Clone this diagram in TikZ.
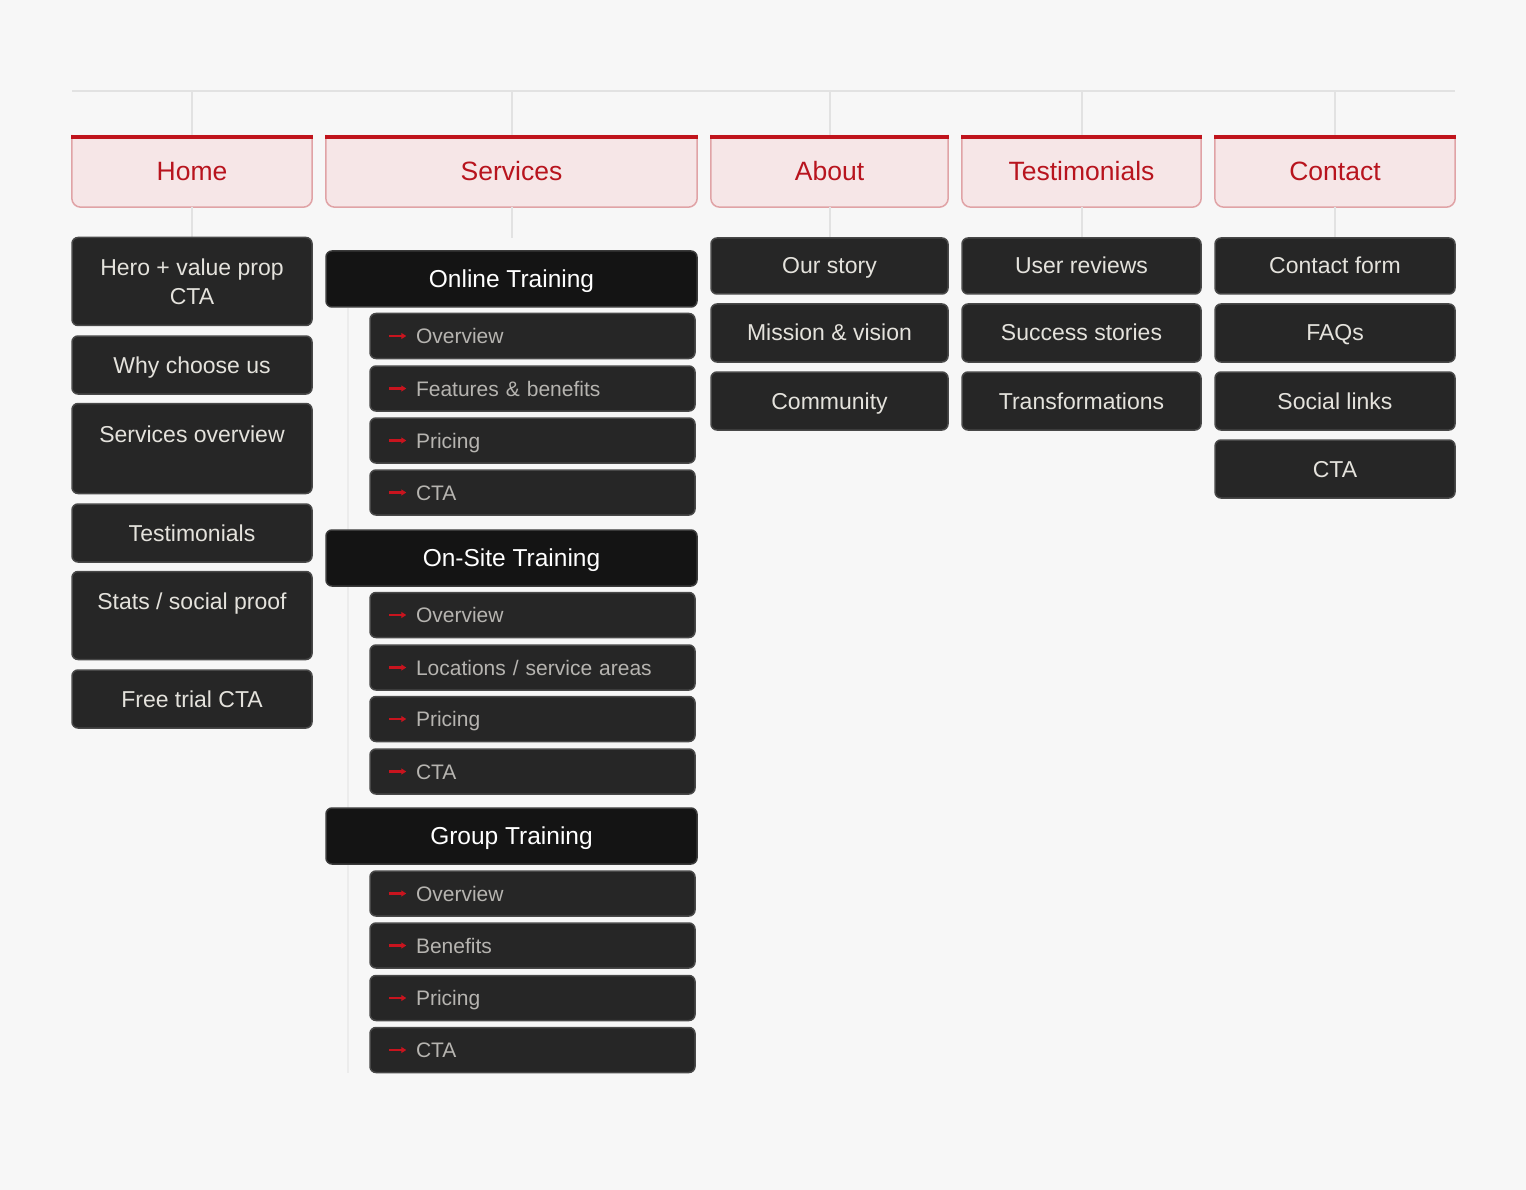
\documentclass[tikz,border=0pt]{standalone}
\usepackage{fontspec}
\setmainfont{Liberation Sans}
\usetikzlibrary{arrows.meta}
\definecolor{bgc}{HTML}{F7F7F7}
\definecolor{connc}{HTML}{E2E2E2}
\definecolor{spinec}{HTML}{ECECEC}
\definecolor{hdrfill}{HTML}{F6E6E7}
\definecolor{hdrborder}{HTML}{E0A3A6}
\definecolor{hdrred}{HTML}{C0141C}
\definecolor{hdrtext}{HTML}{B8141E}
\definecolor{itemfill}{HTML}{262626}
\definecolor{itemborder}{HTML}{484848}
\definecolor{itemtext}{HTML}{E4E2DC}
\definecolor{grpfill}{HTML}{141414}
\definecolor{grpborder}{HTML}{3A3A3A}
\definecolor{subtext}{HTML}{B6B4B0}
\definecolor{arrowred}{HTML}{C8141E}
\pgfdeclarelayer{bgzero}
\pgfdeclarelayer{bgone}
\pgfsetlayers{bgzero,bgone,main}
\newcommand\hdrdeco[1]{%
  \fill[hdrfill, rounded corners=9pt] (#1.north west) rectangle (#1.south east);
  \fill[hdrfill] (#1.north west) rectangle ([yshift=-20pt]#1.north east);
  \draw[hdrborder, line width=1.5pt, rounded corners=9pt] (#1.north west) -- (#1.south west) -- (#1.south east) -- (#1.north east);
  \fill[hdrred] ([xshift=-0.75pt]#1.north west) rectangle ([xshift=0.75pt,yshift=-4pt]#1.north east);
}
\newcommand\subtxt[1]{\hspace*{26pt}#1}
\begin{document}
\begin{tikzpicture}[x=1pt,y=-1pt,
  hdr/.style={minimum height=72pt, inner sep=0pt, text=hdrtext, font=\fontsize{26.5}{30}\selectfont,
    text height=19pt, text depth=0pt},
  item/.style={draw=itemborder, line width=1.5pt, fill=itemfill, rounded corners=6pt, text=itemtext,
    font=\fontsize{23}{29}\selectfont, align=center, inner sep=0pt},
  one/.style={text height=16pt, text depth=0pt},
  grp/.style={item, fill=grpfill, draw=grpborder, text=white, font=\fontsize{24.5}{29}\selectfont,
    minimum width=371pt, minimum height=56pt, text height=17.5pt, text depth=0pt},
  subitem/.style={item, text=subtext, font=\fontsize{21}{25}\selectfont, align=left,
    inner xsep=20pt, text width=285pt, minimum height=45pt, text height=15pt, text depth=0pt},
  subarrow/.style={draw=arrowred, line width=2.2pt, -{Triangle[length=5pt,width=6pt]}},
  conn/.style={draw=connc, line width=2pt},
  spine/.style={draw=spinec, line width=2pt}]
\begin{pgfonlayer}{bgzero}
\fill[bgc] (0,0) rectangle (1526,1190);
\end{pgfonlayer}
\useasboundingbox (0,0) rectangle (1526,1190);

% headers
\node[hdr, minimum width=240pt] (hHome) at (192,171) {Home};
\node[hdr, minimum width=371pt] (hServices) at (511.5,171) {Services};
\node[hdr, minimum width=237pt] (hAbout) at (829.5,171) {About};
\node[hdr, minimum width=239pt] (hTesti) at (1081.5,171) {Testimonials};
\node[hdr, minimum width=240pt] (hContact) at (1335,171) {Contact};
\begin{pgfonlayer}{bgone}
\hdrdeco{hHome}
\hdrdeco{hServices}
\hdrdeco{hAbout}
\hdrdeco{hTesti}
\hdrdeco{hContact}
\end{pgfonlayer}

% Home column
\begin{scope}[every node/.append style={minimum width=240pt}]
\node[item, minimum height=88pt] (home1) at (192,281.5) {Hero + value prop\\CTA};
\node[item, one, minimum height=58pt] (home2) at (192,365) {Why choose us};
\node[item, minimum height=90pt] (home3) at (192,448.5) {Services overview\\\mbox{}};
\node[item, one, minimum height=58pt] (home4) at (192,533) {Testimonials};
\node[item, minimum height=88pt] (home5) at (192,615.5) {Stats / social proof\\\mbox{}};
\node[item, one, minimum height=58pt] (home6) at (192,699) {Free trial CTA};
\end{scope}

% Services column
\node[grp] (g1) at (511.5,279) {Online Training};
\node[subitem] (s11) at (532.5,336) {\subtxt{Overview}};
\node[subitem] (s12) at (532.5,388.5) {\subtxt{Features \& benefits}};
\node[subitem] (s13) at (532.5,440.5) {\subtxt{Pricing}};
\node[subitem] (s14) at (532.5,492.5) {\subtxt{CTA}};
\node[grp] (g2) at (511.5,558) {On-Site Training};
\node[subitem] (s21) at (532.5,615) {\subtxt{Overview}};
\node[subitem] (s22) at (532.5,667.5) {\subtxt{Locations / service areas}};
\node[subitem] (s23) at (532.5,719) {\subtxt{Pricing}};
\node[subitem] (s24) at (532.5,771.5) {\subtxt{CTA}};
\node[grp] (g3) at (511.5,836) {Group Training};
\node[subitem] (s31) at (532.5,893.5) {\subtxt{Overview}};
\node[subitem] (s32) at (532.5,945.5) {\subtxt{Benefits}};
\node[subitem] (s33) at (532.5,998) {\subtxt{Pricing}};
\node[subitem] (s34) at (532.5,1050) {\subtxt{CTA}};
\foreach \s in {s11,s12,s13,s14,s21,s22,s23,s24,s31,s32,s33,s34}{
  \draw[subarrow] ([xshift=20pt]\s.west) -- ([xshift=37pt]\s.west);
}

% About column
\begin{scope}[every node/.append style={minimum width=237pt}]
\node[item, one, minimum height=56pt] (ab1) at (829.5,266) {Our story};
\node[item, one, minimum height=58pt] (ab2) at (829.5,333) {Mission \& vision};
\node[item, one, minimum height=58pt] (ab3) at (829.5,401) {Community};
\end{scope}

% Testimonials column
\begin{scope}[every node/.append style={minimum width=239pt}]
\node[item, one, minimum height=56pt] (te1) at (1081.5,266) {User reviews};
\node[item, one, minimum height=58pt] (te2) at (1081.5,333) {Success stories};
\node[item, one, minimum height=58pt] (te3) at (1081.5,401) {Transformations};
\end{scope}

% Contact column
\begin{scope}[every node/.append style={minimum width=240pt}]
\node[item, one, minimum height=56pt] (co1) at (1335,266) {Contact form};
\node[item, one, minimum height=58pt] (co2) at (1335,333) {FAQs};
\node[item, one, minimum height=58pt] (co3) at (1335,401) {Social links};
\node[item, one, minimum height=58pt] (co4) at (1335,469) {CTA};
\end{scope}

% connectors
\coordinate (tl) at (72,91);
\coordinate (tr) at (1455,91);
\coordinate (svend) at (511.5,238);
\coordinate (spbot) at (348,1073);
\begin{pgfonlayer}{bgone}
\draw[conn, line width=1.5pt] (tl) -- (tr);
\foreach \h in {hHome,hServices,hAbout,hTesti,hContact}{
  \draw[conn] (\h.north |- tl) -- (\h.north);
}
\draw[conn] (hHome.south) -- (home1.north);
\draw[conn] (hServices.south) -- (svend);
\draw[conn] (hAbout.south) -- (ab1.north);
\draw[conn] (hTesti.south) -- (te1.north);
\draw[conn] (hContact.south) -- (co1.north);
\draw[spine] (spbot |- g1.south) -- (spbot);
\end{pgfonlayer}
\end{tikzpicture}
\end{document}
